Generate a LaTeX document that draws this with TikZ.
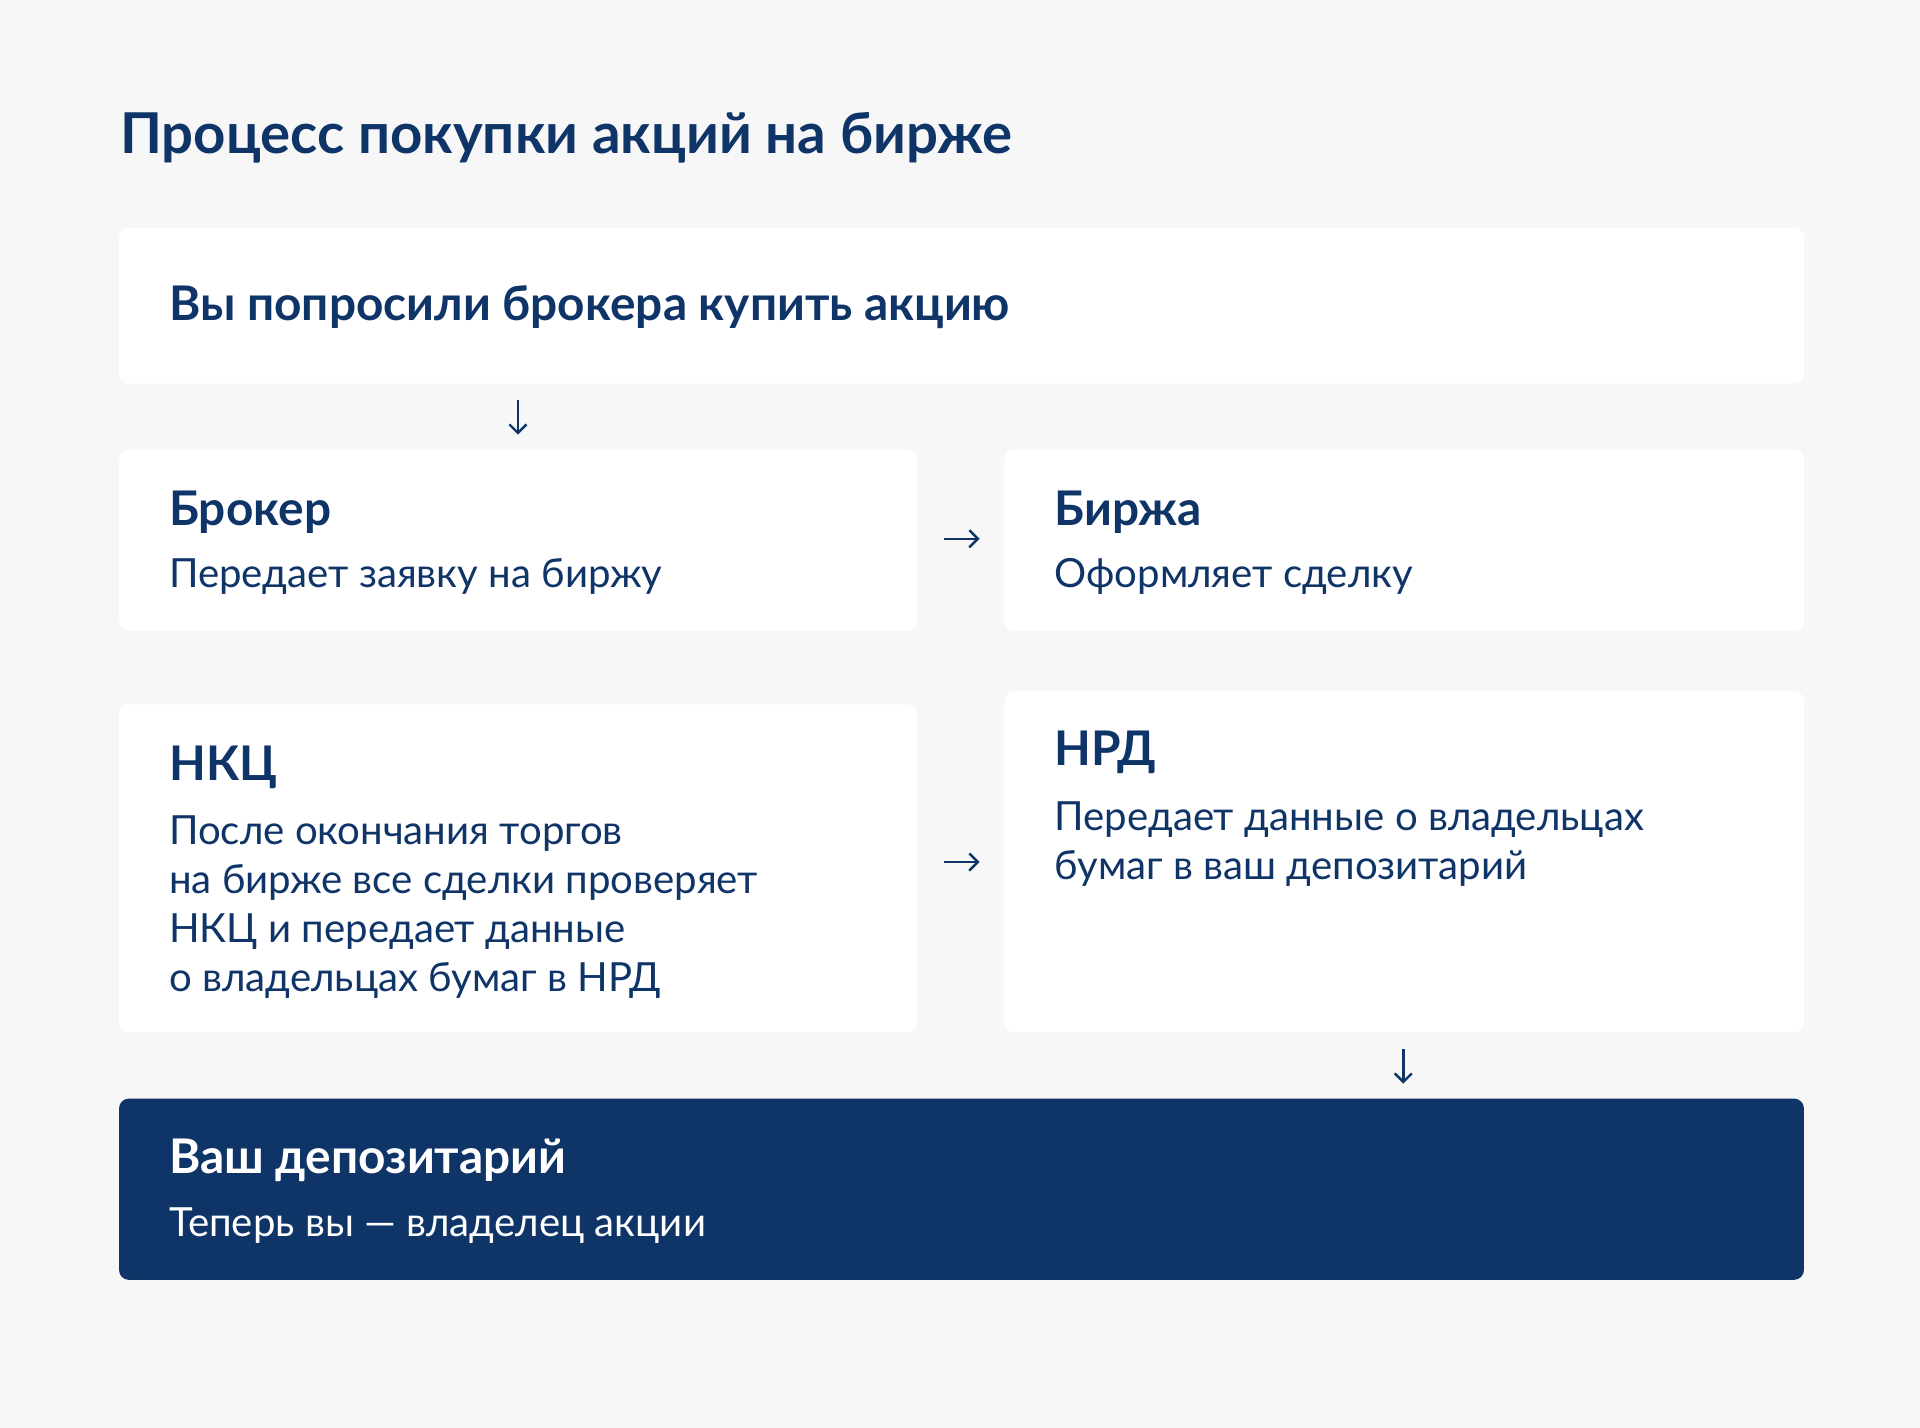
\documentclass[tikz,border=0pt]{standalone}
\usepackage{fontspec}
\setmainfont{Lato}
\usetikzlibrary{arrows.meta, positioning}
\definecolor{navy}{HTML}{0F3468}
\definecolor{paper}{HTML}{F6F7F6}
\tikzset{
  card/.style = {fill=white, rounded corners=8pt, inner sep=0pt,
    anchor=north west},
  darkcard/.style = {card, fill=navy},
  title/.style = {anchor=base west, inner sep=0pt, navy,
    font=\bfseries\fontsize{46}{50}\selectfont},
  head/.style = {anchor=base west, inner sep=0pt, navy,
    font=\bfseries\fontsize{39}{42}\selectfont},
  body/.style = {anchor=base west, inner sep=0pt, navy, align=left,
    font=\fontsize{32.8}{40}\selectfont},
  arr/.style = {navy, line width=2pt, -{Straight Barb[length=7pt, width=14pt]}}
}

\begin{document}
\begin{tikzpicture}[x=1pt, y=1pt]
\fill[paper] (0,0) rectangle (1568,-1166);
\useasboundingbox (0,0) rectangle (1568,-1166);

\node [title] (ttl) at (98,-125) {Процесс покупки акций на бирже};

% cards
\node [card, minimum width=1376pt, minimum height=127pt] (ask) at (97,-186) {};
\node [card, minimum width=652pt, minimum height=148pt] (broker) at (97,-367) {};
\node [card, minimum width=653pt, minimum height=148pt] (exch) at (820,-367) {};
\node [card, minimum width=652pt, minimum height=268pt] (nkc) at (97,-575) {};
\node [card, minimum width=653pt, minimum height=279pt] (nrd) at (820,-564) {};
\node [darkcard, minimum width=1376pt, minimum height=148pt] (depo) at (97,-897) {};

% texts (multi-line blocks sit on their last line)
\node [head] (askt) at (138,-262) {Вы попросили брокера купить акцию};
\node [head] (brokert) at (138,-429) {Брокер};
\node [body] (brokerb) at (138,-480) {Передает заявку на биржу};
\node [head] (excht) at (861,-429) {Биржа};
\node [body] (exchb) at (861,-480) {Оформляет сделку};
\node [head] (nkct) at (138,-637) {НКЦ};
\node [body] (nkcb) at (138,-810) {После окончания торгов\\на бирже все сделки проверяет\\НКЦ и передает данные\\о владельцах бумаг в НРД};
\node [head] (nrdt) at (861,-625) {НРД};
\node [body] (nrdb) at (861,-718) {Передает данные о владельцах\\бумаг в ваш депозитарий};
\node [head, white] (depot) at (138,-958) {Ваш депозитарий};
\node [body, white] (depob) at (138,-1010) {Теперь вы — владелец акции};

% arrows
\coordinate (a1s) at (423,-327);
\coordinate (a1e) at (423,-355);
\coordinate (a2s) at (771,-440);
\coordinate (a2e) at (800,-440);
\coordinate (a3s) at (771,-704);
\coordinate (a3e) at (800,-704);
\coordinate (a4s) at (1146,-857);
\coordinate (a4e) at (1146,-885);
\draw [arr] (a1s) -- (a1e);
\draw [arr] (a2s) -- (a2e);
\draw [arr] (a3s) -- (a3e);
\draw [arr] (a4s) -- (a4e);
\end{tikzpicture}
\end{document}
